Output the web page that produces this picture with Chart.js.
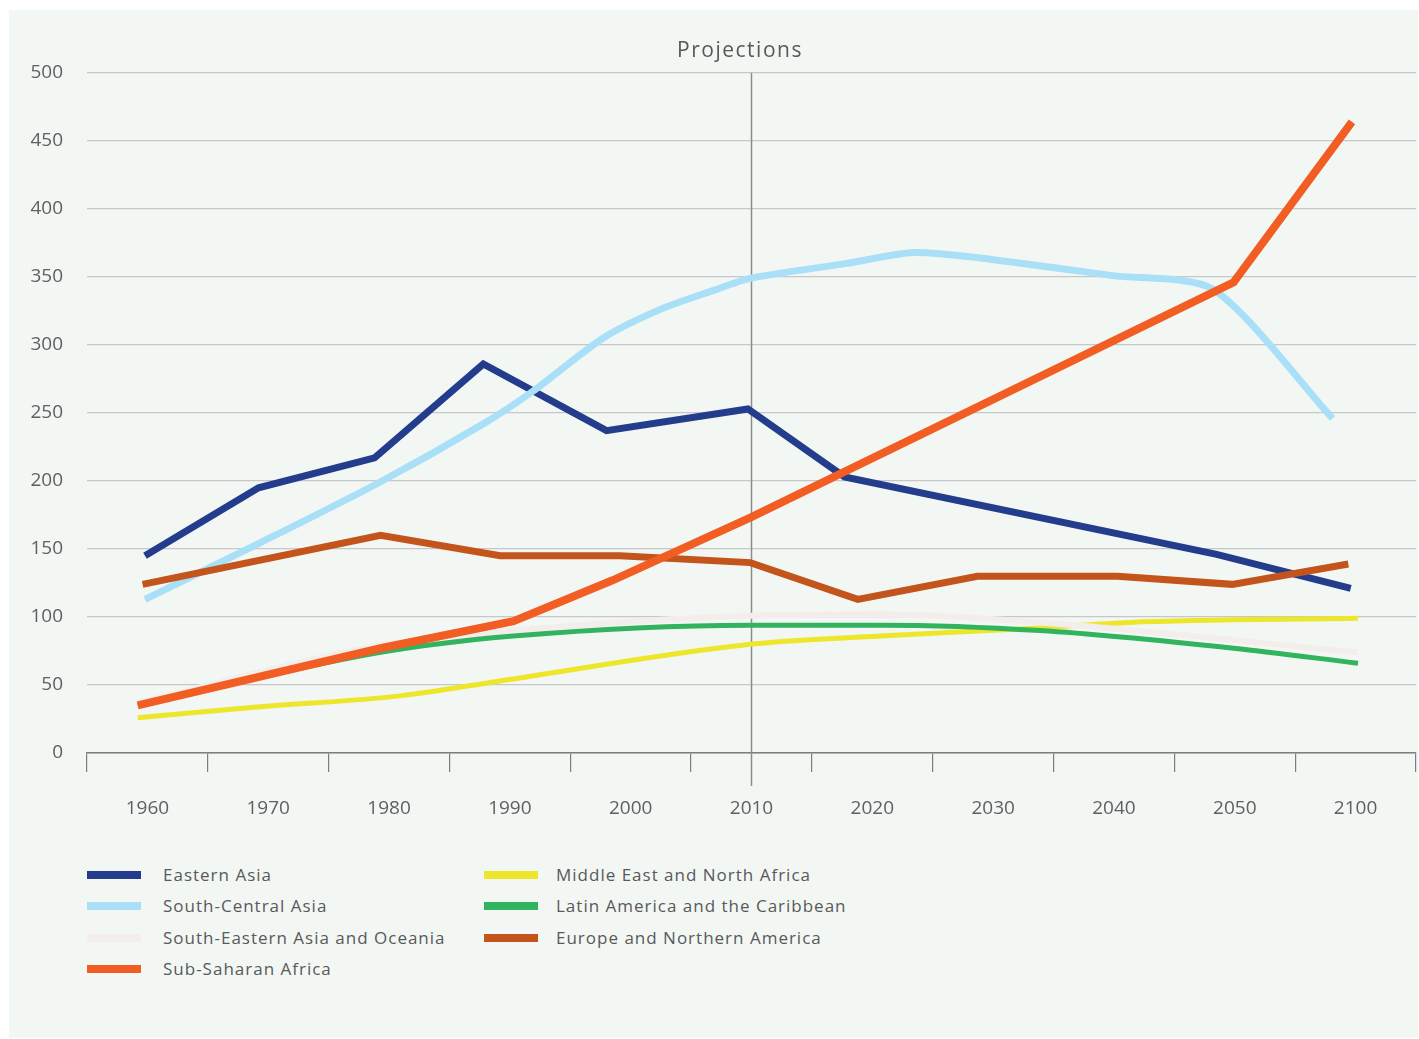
<!DOCTYPE html>
<html>
<head>
<meta charset="utf-8">
<script src="https://cdn.jsdelivr.net/npm/chart.js@4.4.1/dist/chart.umd.min.js"></script>
<style>
  body { margin: 0; background: #fff; font-family: 'Open Sans', sans-serif; }
  #panel { position: absolute; left: 9px; top: 10px; width: 1409px; height: 1028px; background: #f3f7f3; }
  #canvas { position: absolute; left: 0; top: 0; }
  #title { position: absolute; left: 590px; top: 35px; width: 300px; text-align: center;
           font-size: 21px; line-height: 28px; letter-spacing: 1.5px; color: #58595b; }
  .item { position: absolute; font-size: 17px; line-height: 24px; letter-spacing: 1px; color: #58595b; white-space: nowrap; }
  .swatch { position: absolute; width: 54px; height: 8px; }
</style>
</head>
<body>
<div id="panel"></div>
<canvas id="canvas" width="1419" height="850"></canvas>
<div id="title">Projections</div>
<div id="legend"></div>
<script>
const labels = ['1960', '1970', '1980', '1990', '2000', '2010', '2020', '2030', '2040', '2050', '2100'];

// [position on the category axis, value]
const easternAsia = [[-0.02, 145], [0.92, 195], [1.88, 217], [2.78, 286], [3.80, 237], [4.97, 253], [5.77, 203], [8.85, 146], [9.96, 121]];
const southCentralAsia = [[-0.02, 113], [0.92, 154], [1.90, 198], [2.78, 242], [3.19, 266], [3.77, 305], [4.24, 326], [4.68, 340], [4.99, 349], [5.79, 360], [6.34, 368], [6.89, 364], [7.99, 351], [8.82, 341], [9.81, 246]];
const southEasternAsia = [[-0.08, 37], [1.93, 79], [3.03, 90], [4.99, 101], [6.07, 102], [7.39, 96], [10.02, 74]];
const subSaharanAfrica = [[-0.08, 35], [1.93, 77], [3.03, 97], [3.44, 112], [3.85, 127], [4.99, 173], [8.99, 346], [9.97, 464]];
const middleEast = [[-0.08, 26], [0.93, 34], [2.09, 42], [2.92, 53], [4.99, 80], [6.07, 86], [7.39, 92], [8.13, 96], [10.02, 99]];
const latinAmerica = [[-0.08, 35], [1.93, 74], [3.03, 86], [4.99, 94], [6.07, 94], [7.39, 90], [8.99, 77], [10.02, 66]];
const europeNorthAmerica = [[-0.04, 124], [1.93, 160], [2.92, 145], [3.91, 145], [4.99, 140], [5.88, 113], [6.87, 130], [8.03, 130], [8.98, 124], [9.94, 139]];

const yTicks = [0, 50, 100, 150, 200, 250, 300, 350, 400, 450, 500];

const font = 'Open Sans';
const toXY = arr => arr.map(p => ({ x: p[0], y: p[1] }));

const series = [
  { label: 'Eastern Asia', data: easternAsia, color: '#243c8c', width: 7, order: 3, curve: 'none', col: 0, row: 0 },
  { label: 'South-Central Asia', data: southCentralAsia, color: '#a9e0f8', width: 7, order: 2, curve: 'bezier', col: 0, row: 1 },
  { label: 'South-Eastern Asia and Oceania', data: southEasternAsia, color: '#f3edeb', width: 6, order: 5, curve: 'monotone', col: 0, row: 2 },
  { label: 'Sub-Saharan Africa', data: subSaharanAfrica, color: '#f15d22', width: 8, order: 0, curve: 'none', col: 0, row: 3 },
  { label: 'Middle East and North Africa', data: middleEast, color: '#ede62a', width: 5, order: 6, curve: 'monotone', col: 1, row: 0 },
  { label: 'Latin America and the Caribbean', data: latinAmerica, color: '#32b35e', width: 5, order: 4, curve: 'monotone', col: 1, row: 1 },
  { label: 'Europe and Northern America', data: europeNorthAmerica, color: '#c3541b', width: 7, order: 1, curve: 'none', col: 1, row: 2 }
];

const divider = {
  id: 'divider',
  beforeDatasetsDraw(chart) {
    const { ctx, chartArea, scales } = chart;
    const x = scales.x.getPixelForValue(labels.indexOf('2010'));
    ctx.save();
    ctx.strokeStyle = '#8c8c8c';
    ctx.lineWidth = 1.5;
    ctx.beginPath();
    ctx.moveTo(x, chartArea.top);
    ctx.lineTo(x, chartArea.bottom + 33);
    ctx.stroke();
    ctx.restore();
  }
};

const chart = new Chart(document.getElementById('canvas'), {
  type: 'line',
  data: {
    labels: labels,
    datasets: series.map(s => ({
      label: s.label,
      data: toXY(s.data),
      xAxisID: 'xv',
      borderColor: s.color,
      backgroundColor: s.color,
      borderWidth: s.width,
      order: s.order,
      pointRadius: 0,
      fill: false,
      tension: s.curve === 'bezier' ? 0.25 : 0,
      cubicInterpolationMode: s.curve === 'monotone' ? 'monotone' : 'default'
    }))
  },
  options: {
    responsive: false,
    animation: false,
    devicePixelRatio: 1,
    layout: { padding: { top: 73, right: 3, left: 0, bottom: 0 } },
    plugins: { legend: { display: false }, title: { display: false }, tooltip: { enabled: false } },
    scales: {
      xv: { type: 'linear', display: false, min: -0.5, max: 10.5 },
      x: {
        type: 'category',
        offset: true,
        grid: { offset: true, drawOnChartArea: false, tickLength: 19, color: '#7d7d7d', lineWidth: 1.2 },
        border: { color: '#7d7d7d', width: 1.5 },
        ticks: { padding: 25, color: '#5f6062', font: { family: font, size: 19 }, maxRotation: 0, autoSkip: false },
        afterFit: s => { s.height = 97; }
      },
      y: {
        min: 0,
        max: 500,
        afterBuildTicks: s => { s.ticks = yTicks.map(v => ({ value: v })); },
        grid: { color: '#c5c7c9', lineWidth: 1.2, drawTicks: false },
        border: { display: false },
        ticks: { padding: 24, color: '#5f6062', font: { family: font, size: 19 } },
        afterFit: s => { s.width = 87; }
      }
    }
  },
  plugins: [divider]
});

// legend in two columns, as in the source layout
const legend = document.getElementById('legend');
const colX = [87, 484];
const textX = [163, 556];
const rowY = [875, 906, 938, 969];
chart.data.datasets.forEach((ds, i) => {
  const s = series[i];
  const sw = document.createElement('div');
  sw.className = 'swatch';
  sw.style.left = colX[s.col] + 'px';
  sw.style.top = (rowY[s.row] - 4) + 'px';
  sw.style.background = ds.borderColor;
  legend.appendChild(sw);
  const t = document.createElement('div');
  t.className = 'item';
  t.style.left = textX[s.col] + 'px';
  t.style.top = (rowY[s.row] - 12) + 'px';
  t.textContent = ds.label;
  legend.appendChild(t);
});
</script>
</body>
</html>
